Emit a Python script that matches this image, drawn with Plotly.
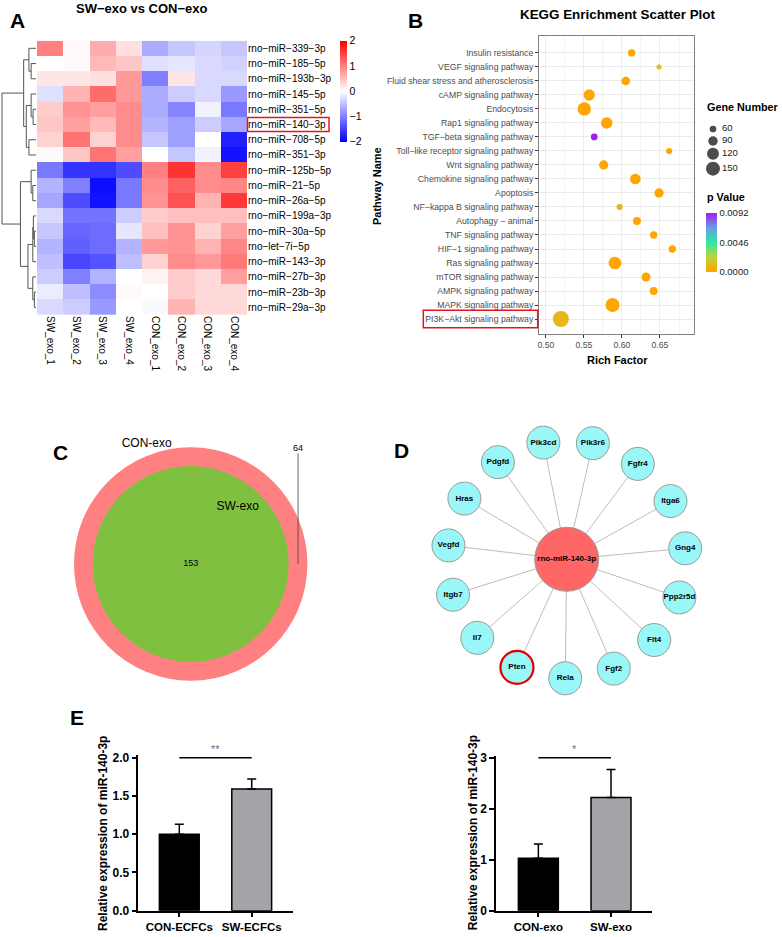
import math
import plotly.graph_objects as go

W, H = 782, 937
FONT = "Liberation Sans, Arial, Helvetica, sans-serif"


def px(x):
    return x / W


def py(y):
    return 1 - y / H


# ---------------- Panel A: heatmap data ----------------
hm_rows = ["rno−miR−339−3p", "rno−miR−185−5p", "rno−miR−193b−3p", "rno−miR−145−5p",
           "rno−miR−351−5p", "rno−miR−140−3p", "rno−miR−708−5p", "rno−miR−351−3p",
           "rno−miR−125b−5p", "rno−miR−21−5p", "rno−miR−26a−5p", "rno−miR−199a−3p",
           "rno−miR−30a−5p", "rno−let−7i−5p", "rno−miR−143−3p", "rno−miR−27b−3p",
           "rno−miR−23b−3p", "rno−miR−29a−3p"]
hm_cols = ["SW_exo_1", "SW_exo_2", "SW_exo_3", "SW_exo_4",
           "CON_exo_1", "CON_exo_2", "CON_exo_3", "CON_exo_4"]
hm_vals = [
    [1.00, 0.05, 0.65, 0.25, -0.65, -0.45, -0.33, -0.45],
    [0.00, 0.05, 0.55, 0.45, -0.25, -0.20, -0.30, -0.35],
    [0.20, 0.20, 0.25, 0.80, -1.00, 0.20, -0.30, -0.30],
    [-0.25, 0.60, 1.15, 0.80, -0.65, -0.40, -0.30, -0.80],
    [0.40, 0.85, 0.75, 0.90, -0.65, -0.95, -0.10, -1.05],
    [0.45, 0.75, 0.55, 0.90, -0.60, -0.75, -0.40, -0.70],
    [0.35, 1.10, 0.35, 0.90, -0.45, -0.75, 0.00, -1.75],
    [0.05, 0.45, 1.10, 0.75, 0.00, -0.45, -0.10, -1.85],
    [-1.05, -1.60, -1.60, -1.40, 1.00, 1.60, 0.90, 1.50],
    [-0.60, -1.00, -1.90, -1.05, 0.90, 1.25, 0.90, 0.95],
    [-0.70, -1.40, -1.85, -1.05, 0.85, 1.35, 0.60, 1.55],
    [-0.30, -1.10, -1.10, -0.40, 0.40, 0.50, 0.50, 0.50],
    [-0.45, -1.20, -1.15, -0.20, 0.50, 0.85, 0.35, 0.75],
    [-0.60, -1.25, -1.15, -0.60, 0.80, 0.85, 0.60, 0.95],
    [-0.50, -1.45, -1.35, -0.50, 0.35, 0.90, 0.80, 1.05],
    [-0.40, -1.00, -0.60, 0.00, 0.10, 0.40, 0.30, 0.75],
    [-0.15, -0.50, -0.90, 0.05, 0.00, 0.40, 0.30, 0.30],
    [-0.30, -0.40, -0.80, 0.00, -0.05, 0.60, 0.30, 0.30],
]
# row dendrogram merges: (child a, child b, height); leaves 0..17, clusters 18..
dend_merges = [
    (1, 2, 5.0), (0, 18, 7.3), (4, 5, 3.0), (3, 20, 5.0), (6, 7, 7.3),
    (21, 22, 10.0), (19, 23, 12.7), (9, 10, 3.3), (8, 25, 5.0), (12, 13, 1.7),
    (11, 27, 2.7), (28, 14, 3.3), (16, 17, 1.7), (15, 30, 3.3), (29, 31, 8.3),
    (26, 32, 16.0), (24, 33, 35.0),
]
hm_highlight = "rno−miR−140−3p"

# ---------------- Panel B: KEGG data (top to bottom) ----------------
kegg_pathways = ["Insulin resistance", "VEGF signaling pathway",
                 "Fluid shear stress and atherosclerosis", "cAMP signaling pathway",
                 "Endocytosis", "Rap1 signaling pathway", "TGF−beta signaling pathway",
                 "Toll−like receptor signaling pathway", "Wnt signaling pathway",
                 "Chemokine signaling pathway", "Apoptosis", "NF−kappa B signaling pathway",
                 "Autophagy − animal", "TNF signaling pathway", "HIF−1 signaling pathway",
                 "Ras signaling pathway", "mTOR signaling pathway", "AMPK signaling pathway",
                 "MAPK signaling pathway", "PI3K−Akt signaling pathway"]
kegg_rich = [0.6127, 0.6487, 0.6050, 0.5570, 0.5505, 0.5800, 0.5636, 0.6620, 0.5760, 0.6176,
             0.6487, 0.5970, 0.6197, 0.6417, 0.6662, 0.5908, 0.6316, 0.6417, 0.5877, 0.5197]
kegg_genes = [66, 45, 80, 112, 139, 115, 60, 55, 87, 104,
              87, 55, 73, 66, 66, 131, 84, 73, 150, 182]
kegg_p = [0.0001, 0.0012, 0.0000, 0.0001, 0.0000, 0.0000, 0.0092, 0.0001, 0.0001, 0.0000,
          0.0000, 0.0011, 0.0000, 0.0000, 0.0000, 0.0000, 0.0000, 0.0000, 0.0000, 0.0009]
gene_legend = [60, 90, 120, 150]
kegg_highlight = "PI3K−Akt signaling pathway"

# ---------------- Panel C: Venn ----------------
venn_names = ["CON-exo", "SW-exo"]
venn_con_only = 64
venn_shared = 153

# ---------------- Panel D: network ----------------
hub = "rno-miR-140-3p"
targets = ["Rela", "Pten", "Il7", "Itgb7", "Vegfd", "Hras", "Pdgfd", "Pik3cd",
           "Pik3r6", "Fgfr4", "Itga6", "Gng4", "Ppp2r5d", "Flt4", "Fgf2"]
target_highlight = "Pten"

# ---------------- Panel E: qPCR bars ----------------
e1_groups = ["CON-ECFCs", "SW-ECFCs"]
e1_mean = [1.00, 1.59]
e1_sem = [0.13, 0.13]
e1_sig = "**"
e1_sig_y = 2.0
e2_groups = ["CON-exo", "SW-exo"]
e2_mean = [1.03, 2.22]
e2_sem = [0.28, 0.55]
e2_sig = "*"
e2_sig_y = 3.0

fig = go.Figure()
shapes = []
annos = []

# ================= Panel A =================
HM_L, HM_R, HM_T, HM_B = 37.0, 247.0, 40.7, 315.0
fig.add_trace(go.Heatmap(
    z=hm_vals, x=hm_cols, y=hm_rows, zmin=-2, zmax=2,
    colorscale=[[0, "#0000FF"], [0.5, "#FFFFFF"], [1, "#FF0000"]],
    xaxis="x", yaxis="y", hoverinfo="skip",
    colorbar=dict(x=px(340), xanchor="left", xpad=0, y=py(40.7), yanchor="top", ypad=0,
                  len=101, lenmode="pixels", thickness=7, thicknessmode="pixels",
                  outlinewidth=0, tickvals=[-2, -1, 0, 1, 2],
                  ticktext=["−2", "−1", "0", "1", "2"], ticks="",
                  tickfont=dict(size=10.5, color="#000", family=FONT)),
))

# dendrogram (overlay pixel axis)
row_h = (HM_B - HM_T) / len(hm_rows)
max_h = max(m[2] for m in dend_merges)
DEND_W = 34.0


def hx(h):
    return HM_L - 1 - h / max_h * DEND_W


node = {i: (HM_T + (i + 0.5) * row_h, 0.0) for i in range(len(hm_rows))}
dx, dy = [], []
for k, (a, b, h) in enumerate(dend_merges):
    ya, ha = node[a]
    yb, hb = node[b]
    dx += [hx(ha), hx(h), hx(h), hx(hb), None]
    dy += [ya, ya, yb, yb, None]
    node[len(hm_rows) + k] = ((ya + yb) / 2, h)
fig.add_trace(go.Scatter(x=dx, y=dy, mode="lines", line=dict(color="#555555", width=1),
                         xaxis="x5", yaxis="y5", hoverinfo="skip"))

hi = hm_rows.index(hm_highlight)
shapes.append(dict(type="rect", xref="paper", yref="y", x0=px(HM_R + 0.5), x1=px(HM_R + 82),
                   y0=hi - 0.46, y1=hi + 0.46, line=dict(color="#E8141C", width=1.5)))

annos += [
    dict(text="<b>A</b>", x=px(17.5), y=py(20.5), font=dict(size=21)),
    dict(text="<b>SW−exo vs CON−exo</b>", x=px(141.7), y=py(8), font=dict(size=13)),
]

# ================= Panel B =================
def gene_diam(n):
    return max(2.0, -5.86 + 1.622 * math.sqrt(n))


pmax = max(kegg_p)
pcolors = [[0, "#FFA500"], [0.25, "#BFD33A"], [0.5, "#2EE8A0"], [0.75, "#6A9BE8"], [1, "#A020F0"]]
fig.add_trace(go.Scatter(
    x=kegg_rich, y=kegg_pathways, mode="markers", xaxis="x2", yaxis="y2", hoverinfo="skip",
    marker=dict(size=[gene_diam(n) for n in kegg_genes], sizemode="diameter",
                color=kegg_p, colorscale=pcolors, cmin=0, cmax=pmax, opacity=1,
                line=dict(width=0),
                colorbar=dict(x=px(706), xanchor="left", xpad=0, y=py(213), yanchor="top", ypad=0,
                              len=59, lenmode="pixels", thickness=11, thicknessmode="pixels",
                              outlinewidth=0, tickvals=[0, pmax / 2, pmax],
                              ticktext=["%.4f" % v for v in [0, pmax / 2, pmax]], ticks="",
                              tickfont=dict(size=9.5, color="#1A1A1A", family=FONT))),
))

# size legend
leg_y = [129.0]
ds = [gene_diam(n) for n in gene_legend]
for i in range(1, len(gene_legend)):
    leg_y.append(leg_y[-1] + max(12.0, (ds[i - 1] + ds[i]) / 2 + 2))
fig.add_trace(go.Scatter(x=[713] * len(gene_legend), y=leg_y, mode="markers", xaxis="x5", yaxis="y5",
                         marker=dict(size=ds, color="#000000", line=dict(width=0)), hoverinfo="skip"))
fig.add_trace(go.Scatter(x=[722] * len(gene_legend), y=leg_y, mode="text", xaxis="x5", yaxis="y5",
                         text=[str(v) for v in gene_legend], textposition="middle right",
                         textfont=dict(size=9.5, color="#1A1A1A", family=FONT), hoverinfo="skip"))

ki = len(kegg_pathways) - 1 - kegg_pathways.index(kegg_highlight)
shapes.append(dict(type="rect", xref="paper", yref="y2", x0=px(423.3), x1=px(537.7),
                   y0=ki - 0.63, y1=ki + 0.63, line=dict(color="#E8141C", width=1.5)))

annos += [
    dict(text="<b>B</b>", x=px(415), y=py(20.5), font=dict(size=21)),
    dict(text="<b>KEGG Enrichment Scatter Plot</b>", x=px(617), y=py(15), font=dict(size=13.4)),
    dict(text="<b>Pathway Name</b>", x=px(377), y=py(186), textangle=-90, font=dict(size=11)),
    dict(text="<b>Rich Factor</b>", x=px(617), y=py(360), font=dict(size=11)),
    dict(text="<b>Gene Number</b>", x=px(705), y=py(107), xanchor="left", font=dict(size=10.8)),
    dict(text="<b>p Value</b>", x=px(705), y=py(197), xanchor="left", font=dict(size=10.8)),
]

# ================= Panel C =================
VC_X, VC_Y = 190.7, 564.0
venn_k = 116.7 / math.sqrt(venn_con_only + venn_shared)
r_out = venn_k * math.sqrt(venn_con_only + venn_shared)
r_in = venn_k * math.sqrt(venn_shared)
shapes.append(dict(type="circle", xref="x5", yref="y5", x0=VC_X - r_out, x1=VC_X + r_out,
                   y0=VC_Y - r_out, y1=VC_Y + r_out, fillcolor="#FF8080", line=dict(width=0),
                   layer="below"))
shapes.append(dict(type="circle", xref="x5", yref="y5", x0=VC_X - r_in, x1=VC_X + r_in,
                   y0=VC_Y - r_in, y1=VC_Y + r_in, fillcolor="#80C040", line=dict(width=0),
                   layer="below"))
ring_x = VC_X + (r_in + r_out) / 2
fig.add_trace(go.Scatter(x=[ring_x, ring_x], y=[VC_Y - r_out + 6, VC_Y], mode="lines",
                         line=dict(color="#444444", width=0.8), xaxis="x5", yaxis="y5",
                         hoverinfo="skip"))
fig.add_trace(go.Scatter(
    x=[VC_X, ring_x, VC_X - 44, VC_X + 47],
    y=[VC_Y, VC_Y - r_out + 1, VC_Y - 120, VC_Y - 57],
    text=[str(venn_shared), str(venn_con_only), venn_names[0], venn_names[1]],
    mode="text", textposition="middle center", xaxis="x5", yaxis="y5", hoverinfo="skip",
    textfont=dict(size=[9, 9, 12, 12], color="#000", family=FONT)))
annos.append(dict(text="<b>C</b>", x=px(60.5), y=py(452), font=dict(size=21)))

# ================= Panel D =================
HUB_X, HUB_Y, RING_R, START = 566.7, 559.3, 119.0, 90.7
nx, ny = [], []
for k, name in enumerate(targets):
    a = math.radians(START + 360.0 * k / len(targets))
    nx.append(HUB_X + RING_R * math.cos(a))
    ny.append(HUB_Y + RING_R * math.sin(a))
ex, ey = [], []
for x, y in zip(nx, ny):
    ex += [HUB_X, x, None]
    ey += [HUB_Y, y, None]
fig.add_trace(go.Scatter(x=ex, y=ey, mode="lines", line=dict(color="#BDBDBD", width=1),
                         xaxis="x5", yaxis="y5", hoverinfo="skip"))
fig.add_trace(go.Scatter(
    x=nx, y=ny, text=["<b>%s</b>" % t for t in targets], mode="markers+text",
    textposition="middle center", xaxis="x5", yaxis="y5", hoverinfo="skip",
    textfont=dict(size=8, color="#000", family=FONT),
    marker=dict(size=33, color="#99F7F7",
                line=dict(color=["#E00000" if t == target_highlight else "#9A9A9A" for t in targets],
                          width=[2.2 if t == target_highlight else 1 for t in targets]))))
fig.add_trace(go.Scatter(
    x=[HUB_X], y=[HUB_Y], text=["<b>%s</b>" % hub], mode="markers+text",
    textposition="middle center", xaxis="x5", yaxis="y5", hoverinfo="skip",
    textfont=dict(size=8, color="#000", family=FONT),
    marker=dict(size=64, color="#FF6666", line=dict(color="#9A9A9A", width=1))))
annos.append(dict(text="<b>D</b>", x=px(401), y=py(451), font=dict(size=21)))

# ================= Panel E =================
E_BASE = 910.7


def bar_panel(groups, mean, sem, sig, sig_y, xa, ya, gray):
    fig.add_trace(go.Bar(
        x=groups, y=mean, width=0.55, xaxis=xa, yaxis=ya, hoverinfo="skip",
        marker=dict(color=["#000000", gray], line=dict(color="#000000", width=1.5)),
        error_y=dict(type="data", array=sem, arrayminus=[0] * len(sem), symmetric=False,
                     color="#000000", thickness=1.5, width=4.5)))
    fig.add_trace(go.Scatter(x=[groups[0], groups[-1]], y=[sig_y, sig_y], mode="lines",
                             line=dict(color="#000000", width=1.5), xaxis=xa, yaxis=ya,
                             hoverinfo="skip"))
    annos.append(dict(text=sig, x=0.5, y=sig_y, xref=xa, yref=ya, yanchor="bottom",
                      yshift=1, font=dict(size=11, color="#707070")))


bar_panel(e1_groups, e1_mean, e1_sem, e1_sig, e1_sig_y, "x3", "y3", "#A3A3A8")
bar_panel(e2_groups, e2_mean, e2_sem, e2_sig, e2_sig_y, "x4", "y4", "#A3A3A8")
annos += [
    dict(text="<b>E</b>", x=px(77), y=py(717), font=dict(size=21)),
    dict(text="<b>Relative expression of miR-140-3p</b>", x=px(103), y=py(833), textangle=-90,
         font=dict(size=12)),
    dict(text="<b>Relative expression of miR-140-3p</b>", x=px(473.3), y=py(833), textangle=-90,
         font=dict(size=12)),
]

for a in annos:
    a.setdefault("xref", "paper")
    a.setdefault("yref", "paper")
    a.setdefault("showarrow", False)
    a.setdefault("xanchor", "center")
    a.setdefault("yanchor", "middle")
    f = a.setdefault("font", {})
    f.setdefault("family", FONT)
    f.setdefault("color", "#000000")

bar_y_common = dict(showline=True, linewidth=1.5, linecolor="#000", ticks="outside", ticklen=5,
                    tickwidth=1.5, tickcolor="#000", showgrid=False, zeroline=False,
                    tickfont=dict(size=12, family=FONT, weight="bold", color="#000"))
bar_x_common = dict(showline=True, linewidth=1.5, linecolor="#000", ticks="outside", ticklen=5,
                    tickwidth=1.5, tickcolor="#000", showgrid=False, zeroline=False,
                    type="category",
                    tickfont=dict(size=11.5, family=FONT, weight="bold", color="#000"))

fig.update_layout(
    width=W, height=H, margin=dict(l=0, r=0, t=0, b=0), template="none",
    paper_bgcolor="white", plot_bgcolor="rgba(0,0,0,0)", showlegend=False,
    font=dict(family=FONT, color="#000"),
    xaxis=dict(domain=[px(HM_L), px(HM_R)], anchor="y", type="category", tickangle=90,
               ticks="", showgrid=False, zeroline=False, showline=False,
               tickfont=dict(size=10, color="#000", family=FONT)),
    yaxis=dict(domain=[py(HM_B), py(HM_T)], anchor="x", type="category", side="right",
               range=[len(hm_rows) - 0.5, -0.5], ticks="", showgrid=False, zeroline=False,
               showline=False, tickfont=dict(size=10, color="#000", family=FONT)),
    xaxis2=dict(domain=[px(539), px(694)], anchor="y2", range=[0.491, 0.6947], tick0=0.5,
                dtick=0.05, tickformat=".2f", ticks="outside", ticklen=3, tickcolor="#333",
                showline=True, mirror=True, linecolor="#808080", linewidth=1, zeroline=False,
                showgrid=True, gridcolor="#EBEBEB", gridwidth=1,
                minor=dict(dtick=0.025, tick0=0.5, showgrid=True, gridcolor="#F3F3F3",
                           gridwidth=0.6, ticks=""),
                tickfont=dict(size=8.7, color="#4D4D4D", family=FONT)),
    yaxis2=dict(domain=[py(334), py(36)], anchor="x2", type="category",
                categoryorder="array", categoryarray=list(reversed(kegg_pathways)),
                range=[-1.07, len(kegg_pathways) - 1 + 1.21], ticks="outside", ticklen=3,
                tickcolor="#333", showline=True, mirror=True, linecolor="#808080",
                linewidth=1, zeroline=False, showgrid=True, gridcolor="#EBEBEB", gridwidth=1,
                tickfont=dict(size=8.7, color="#4D4D4D", family=FONT)),
    xaxis3=dict(domain=[px(138.3), px(292.7)], anchor="y3", range=[-0.566, 1.566], **bar_x_common),
    yaxis3=dict(domain=[py(E_BASE), py(E_BASE - 2.03 * 76.5)], anchor="x3", range=[0, 2.03],
                tick0=0, dtick=0.5, tickformat=".1f", **bar_y_common),
    xaxis4=dict(domain=[px(496), px(651.7)], anchor="y4", range=[-0.583, 1.56], **bar_x_common),
    yaxis4=dict(domain=[py(E_BASE), py(E_BASE - 3.03 * 51)], anchor="x4", range=[0, 3.03],
                tick0=0, dtick=1, **bar_y_common),
    xaxis5=dict(domain=[0, 1], anchor="y5", range=[0, W], visible=False, fixedrange=True),
    yaxis5=dict(domain=[0, 1], anchor="x5", range=[H, 0], visible=False, fixedrange=True),
    shapes=shapes, annotations=annos,
)

fig.write_html("out.html", config={"displayModeBar": False},
               post_script="document.body.style.margin='0px';document.body.style.overflow='hidden';")
